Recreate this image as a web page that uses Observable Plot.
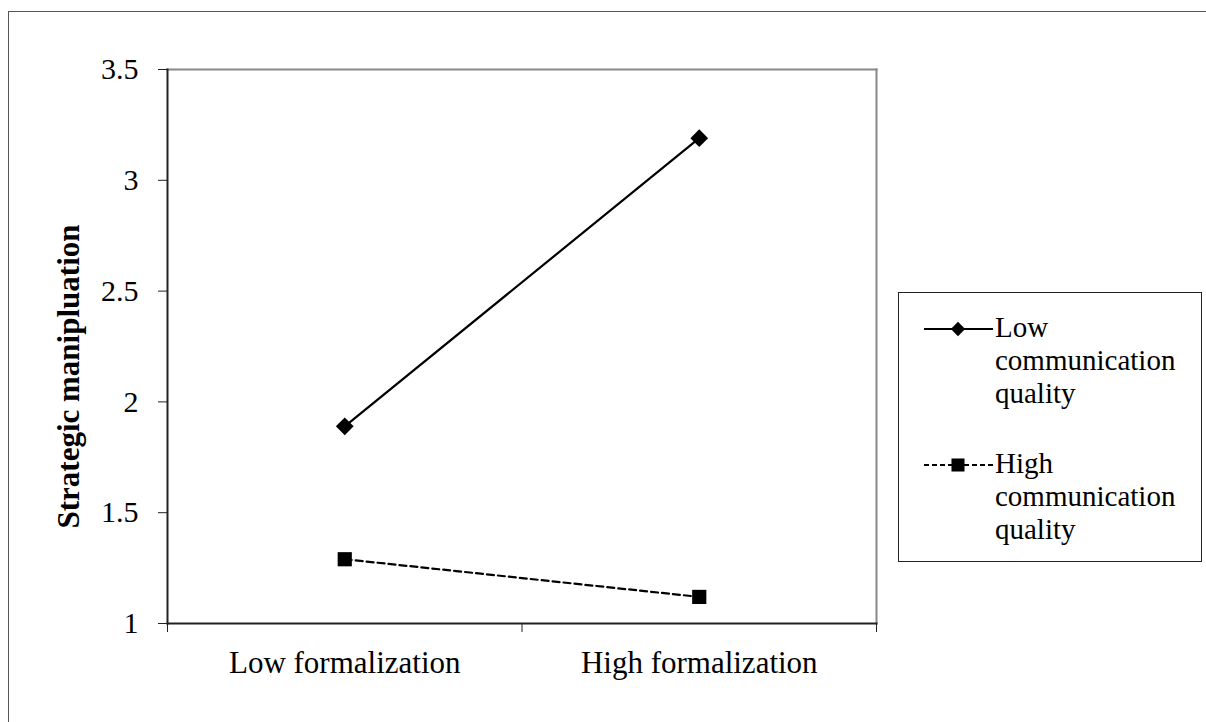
<!DOCTYPE html>
<html>
<head>
<meta charset="utf-8">
<script src="https://cdn.jsdelivr.net/npm/d3@7"></script>
<script src="https://cdn.jsdelivr.net/npm/@observablehq/plot@0.6"></script>
<style>
  html, body { margin: 0; padding: 0; background: #fff; overflow: hidden; }
  #wrap { position: relative; width: 1206px; height: 722px; overflow: hidden; }
  #outer { position: absolute; left: 8px; top: 11px; width: 1400px; height: 900px;
           border-left: 1px solid #555; border-top: 1px solid #555; }
  #chart { position: absolute; left: 0; top: 0; }
  #legend { position: absolute; left: 898px; top: 292px; width: 304px; height: 270px;
            border: 1px solid #222; box-sizing: border-box; background: #fff;
            font-family: "Liberation Serif", "Times New Roman", serif; font-size: 29px; line-height: 33px; color: #000; }
  .entry { position: absolute; left: 96px; }
  .sw { position: absolute; left: 24px; }
</style>
</head>
<body>
<div id="wrap">
  <div id="outer"></div>
  <div id="chart"></div>
  <div id="legend"></div>
</div>
<script>
const categories = ["Low formalization", "High formalization"];
const seriesNames = ["Low communication quality", "High communication quality"];
const lowCommValues = [1.89, 3.19];
const highCommValues = [1.29, 1.12];
const yTicks = [1, 1.5, 2, 2.5, 3, 3.5];
const yTitle = "Strategic manipluation";

const data = [];
categories.forEach((c, i) => {
  data.push({series: seriesNames[0], cat: c, value: lowCommValues[i]});
  data.push({series: seriesNames[1], cat: c, value: highCommValues[i]});
});
const xPos = d => categories.indexOf(d.cat) + 0.5;
const lowData = data.filter(d => d.series === seriesNames[0]);
const highData = data.filter(d => d.series === seriesNames[1]);

const chart = Plot.plot({
  width: 1206,
  height: 722,
  marginLeft: 167,
  marginRight: 330,
  marginTop: 69,
  marginBottom: 99,
  style: {fontFamily: "'Liberation Serif', 'Times New Roman', serif", background: "transparent", overflow: "visible", color: "#000"},
  x: {domain: [0, categories.length]},
  y: {domain: [1, 3.5]},
  marks: [
    Plot.frame({anchor: "top", stroke: "#888", strokeWidth: 2}),
    Plot.frame({anchor: "right", stroke: "#888", strokeWidth: 2}),
    Plot.frame({anchor: "left", stroke: "#222", strokeWidth: 2}),
    Plot.frame({anchor: "bottom", stroke: "#222", strokeWidth: 2}),
    Plot.axisY({ticks: yTicks, tickSize: 9, tickPadding: 20, fontSize: 30, label: null, tickFormat: d => `${d}`, stroke: "#222"}),
    Plot.axisX({ticks: d3.range(categories.length + 1), tickSize: 9, tickFormat: () => "", label: null, stroke: "#222"}),
    Plot.axisX({ticks: categories.map((c, i) => i + 0.5), tickSize: 0, tickPadding: 27, fontSize: 31, label: null, tickFormat: v => categories[Math.floor(v)]}),
    Plot.text([yTitle], {frameAnchor: "left", dx: -89, dy: 30, rotate: -90, textAnchor: "middle", lineAnchor: "bottom", fontSize: 31, fontWeight: "bold", fill: "#000"}),
    Plot.line(lowData, {x: xPos, y: "value", stroke: "#000", strokeWidth: 2.2}),
    Plot.line(highData, {x: xPos, y: "value", stroke: "#000", strokeWidth: 2.2, strokeDasharray: "7,4"}),
    Plot.dot(lowData, {x: xPos, y: "value", symbol: "diamond2", r: 8, fill: "#000", stroke: "none"}),
    Plot.dot(highData, {x: xPos, y: "value", symbol: "square", r: 8, fill: "#000", stroke: "none"})
  ]
});
document.getElementById("chart").appendChild(chart);

// Legend
const legend = document.getElementById("legend");
const entries = [
  {name: seriesNames[0], dash: null, symbol: "diamond", top: 18},
  {name: seriesNames[1], dash: "5,3", symbol: "square", top: 154}
];
entries.forEach(e => {
  const words = e.name.split(" ");
  const div = document.createElement("div");
  div.className = "entry";
  div.style.top = e.top + "px";
  div.innerHTML = words.join("<br>");
  legend.appendChild(div);
  const ns = "http://www.w3.org/2000/svg";
  const svg = document.createElementNS(ns, "svg");
  svg.setAttribute("width", 72);
  svg.setAttribute("height", 20);
  svg.setAttribute("class", "sw");
  svg.style.top = (e.top + 27 - 10 - 9) + "px";
  const ln = document.createElementNS(ns, "line");
  ln.setAttribute("x1", 1); ln.setAttribute("x2", 70);
  ln.setAttribute("y1", 10); ln.setAttribute("y2", 10);
  ln.setAttribute("stroke", "#000"); ln.setAttribute("stroke-width", 2);
  if (e.dash) ln.setAttribute("stroke-dasharray", e.dash);
  svg.appendChild(ln);
  const sym = document.createElementNS(ns, "path");
  const p = e.symbol === "diamond" ? d3.symbol(d3.symbolDiamond2, 130)() : d3.symbol(d3.symbolSquare, 170)();
  sym.setAttribute("d", p);
  sym.setAttribute("transform", "translate(35,10)");
  sym.setAttribute("fill", "#000");
  svg.appendChild(sym);
  legend.appendChild(svg);
});
</script>
</body>
</html>
